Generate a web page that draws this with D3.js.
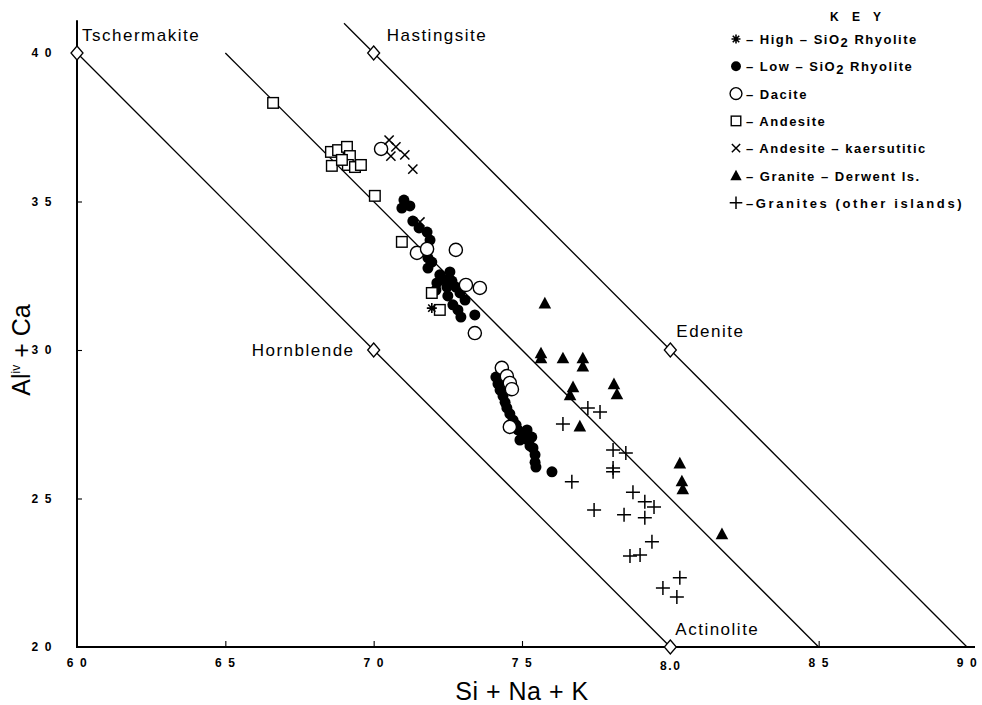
<!DOCTYPE html>
<html>
<head>
<meta charset="utf-8">
<script src="https://cdn.jsdelivr.net/npm/d3@7"></script>
<style>
  body { margin: 0; background: #fff; }
  svg { display: block; }
  text { font-family: "Liberation Sans", Arial, sans-serif; fill: #000; }
</style>
</head>
<body>
<svg id="chart" width="982" height="705"></svg>
<script>
// ---- axis ticks ----
const xTicks = [6.0, 6.5, 7.0, 7.5, 8.0, 8.5, 9.0];
const xTickLabels = ["6 0", "6 5", "7 0", "7 5", "8.0", "8 5", "9 0"];
const yTicks = [2.0, 2.5, 3.0, 3.5, 4.0];
const yTickLabels = ["2 0", "2 5", "3 0", "3 5", "4 0"];

// ---- end-member compositions ----
const endMembers = ["Tschermakite", "Hastingsite", "Hornblende", "Edenite", "Actinolite"];
const endMemberX = [6.0, 7.0, 7.0, 8.0, 8.0];
const endMemberY = [4.0, 4.0, 3.0, 3.0, 2.0];

// ---- boundary lines (x, y pairs) ----
const lineLowX = [6.0, 8.0],  lineLowY = [4.0, 2.0];
const lineMidX = [6.5, 8.5],  lineMidY = [4.0, 2.0];
const lineHighX = [6.9, 9.0], lineHighY = [4.1, 2.0];

// ---- amphibole analyses ----
const highSiO2X = [7.196];
const highSiO2Y = [3.141];

const lowSiO2X = [7.102, 7.122, 7.095, 7.132, 7.153, 7.180, 7.190, 7.183, 7.196, 7.183,
  7.223, 7.240, 7.213, 7.247, 7.210, 7.264, 7.277, 7.250, 7.291, 7.267, 7.284, 7.294,
  7.341, 7.257, 7.308,
  7.412, 7.419, 7.426, 7.436, 7.443, 7.449, 7.459, 7.470, 7.480, 7.486, 7.500, 7.510,
  7.520, 7.527, 7.537, 7.544, 7.544, 7.547, 7.493, 7.517, 7.533, 7.601];
const lowSiO2Y = [3.505, 3.485, 3.478, 3.434, 3.411, 3.397, 3.370, 3.310, 3.296, 3.276,
  3.253, 3.236, 3.226, 3.212, 3.202, 3.232, 3.212, 3.182, 3.192, 3.152, 3.135, 3.111,
  3.118, 3.263, 3.168,
  2.909, 2.886, 2.865, 2.845, 2.824, 2.805, 2.785, 2.764, 2.748, 2.731, 2.720, 2.707,
  2.697, 2.677, 2.670, 2.647, 2.622, 2.606, 2.697, 2.731, 2.707, 2.590];

const daciteX = [7.025, 7.146, 7.180, 7.277, 7.311, 7.358, 7.341, 7.432, 7.449, 7.459, 7.466, 7.459];
const daciteY = [3.677, 3.327, 3.340, 3.337, 3.219, 3.209, 3.057, 2.940, 2.912, 2.889, 2.868, 2.741];

const andesiteX = [6.661, 6.856, 6.859, 6.880, 6.910, 6.920, 6.913, 6.937, 6.957, 6.893, 7.004, 7.095, 7.196, 7.223];
const andesiteY = [3.832, 3.667, 3.620, 3.673, 3.684, 3.653, 3.623, 3.616, 3.623, 3.640, 3.519, 3.364, 3.192, 3.135];

const kaersutiticX = [7.052, 7.075, 7.058, 7.105, 7.132, 7.156];
const kaersutiticY = [3.707, 3.684, 3.653, 3.657, 3.609, 3.431];

const derwentX = [7.577, 7.564, 7.564, 7.638, 7.705, 7.705, 7.672, 7.662, 7.810, 7.820, 7.695, 8.032, 8.039, 8.042, 8.174];
const derwentY = [3.158, 2.990, 2.973, 2.973, 2.973, 2.946, 2.876, 2.849, 2.886, 2.852, 2.744, 2.619, 2.559, 2.532, 2.381];

const otherGraniteX = [7.722, 7.763, 7.638, 7.807, 7.850, 7.807, 7.807, 7.668, 7.874, 7.914,
  7.945, 7.743, 7.844, 7.914, 7.938, 7.864, 7.898, 7.975, 8.032, 8.022];
const otherGraniteY = [2.805, 2.791, 2.751, 2.663, 2.653, 2.603, 2.590, 2.556, 2.521, 2.489,
  2.471, 2.461, 2.445, 2.435, 2.354, 2.306, 2.310, 2.199, 2.233, 2.168];

// ---- key ----
const keySymbols = ["asterisk", "dot", "circle", "square", "xmark", "triangle", "plus"];
const keyLabels = ["– High – SiO|2| Rhyolite", "– Low – SiO|2| Rhyolite", "– Dacite", "– Andesite",
  "– Andesite – kaersutitic", "– Granite – Derwent Is.", "–Granites (other islands)"];

// ---------------------------------------------------------------
const svg = d3.select("#chart");
const x = d3.scaleLinear().domain([6, 9]).range([77, 967]);
const y = d3.scaleLinear().domain([2, 4]).range([647, 53]);

// symbol painters
function drawSymbol(g, type, cx, cy, s) {
  s = s || 1;
  if (type === "dot") {
    g.append("circle").attr("cx", cx).attr("cy", cy).attr("r", 5.5 * s).attr("fill", "#000");
  } else if (type === "circle") {
    g.append("circle").attr("cx", cx).attr("cy", cy).attr("r", 6.6 * s)
      .attr("fill", "#fff").attr("stroke", "#000").attr("stroke-width", 1.4);
  } else if (type === "square") {
    const h = 5.3 * s;
    g.append("rect").attr("x", cx - h).attr("y", cy - h).attr("width", 2 * h).attr("height", 2 * h)
      .attr("fill", "#fff").attr("stroke", "#000").attr("stroke-width", 1.4);
  } else if (type === "xmark") {
    const h = 4.6 * s;
    g.append("path").attr("d", `M${cx - h},${cy - h}L${cx + h},${cy + h}M${cx - h},${cy + h}L${cx + h},${cy - h}`)
      .attr("stroke", "#000").attr("stroke-width", 1.5).attr("fill", "none");
  } else if (type === "plus") {
    const h = 7 * s;
    g.append("path").attr("d", `M${cx - h},${cy}L${cx + h},${cy}M${cx},${cy - h}L${cx},${cy + h}`)
      .attr("stroke", "#000").attr("stroke-width", 1.5).attr("fill", "none");
  } else if (type === "triangle") {
    const h = 6.3 * s;
    g.append("path").attr("d", `M${cx},${cy - h}L${cx + h},${cy + h * 0.85}L${cx - h},${cy + h * 0.85}Z`)
      .attr("fill", "#000");
  } else if (type === "asterisk") {
    const h = 5 * s, d = h * 0.72;
    g.append("path").attr("d",
      `M${cx - h},${cy}L${cx + h},${cy}M${cx},${cy - h}L${cx},${cy + h}` +
      `M${cx - d},${cy - d}L${cx + d},${cy + d}M${cx - d},${cy + d}L${cx + d},${cy - d}`)
      .attr("stroke", "#000").attr("stroke-width", 1.6).attr("fill", "none");
  }
}

// boundary lines
const lineGen = d3.line().x(d => x(d[0])).y(d => y(d[1]));
[[lineLowX, lineLowY], [lineMidX, lineMidY], [lineHighX, lineHighY]].forEach(([xs, ys]) => {
  svg.append("path").attr("d", lineGen(d3.zip(xs, ys)))
    .attr("fill", "none").attr("stroke", "#000").attr("stroke-width", 1.3);
});

// axes
const xAxis = d3.axisBottom(x).tickValues(xTicks)
  .tickFormat((d, i) => xTickLabels[i]).tickSize(-6).tickPadding(11).tickSizeOuter(0);
const gx = svg.append("g").attr("transform", `translate(0,${y(2)})`).call(xAxis);
gx.select(".domain").remove();
gx.selectAll(".tick line").attr("stroke", "#000").attr("stroke-width", 1.1)
  .filter(d => d === 6 || d === 8 || d === 9).remove();
gx.selectAll(".tick text").attr("font-size", 12).attr("font-weight", "bold")
  .attr("letter-spacing", 1.6).attr("font-family", "Liberation Sans, Arial, sans-serif")
  .attr("dy", d => d === 8 ? "1.0em" : "0.71em");

const yAxis = d3.axisLeft(y).tickValues(yTicks)
  .tickFormat((d, i) => yTickLabels[i]).tickSize(-5).tickPadding(24).tickSizeOuter(0);
const gy = svg.append("g").attr("transform", `translate(${x(6)},0)`).call(yAxis);
gy.select(".domain").remove();
gy.selectAll(".tick line").attr("stroke", "#000").attr("stroke-width", 1.1)
  .filter(d => d === 2 || d === 4).remove();
gy.selectAll(".tick text").attr("font-size", 12).attr("font-weight", "bold")
  .attr("letter-spacing", 1.6).attr("font-family", "Liberation Sans, Arial, sans-serif");

// axis frame lines
svg.append("line").attr("x1", x(6)).attr("x2", x(6)).attr("y1", y(4.11)).attr("y2", y(2) + 1)
  .attr("stroke", "#000").attr("stroke-width", 2);
svg.append("line").attr("x1", x(6) - 1).attr("x2", x(9) + 8).attr("y1", y(2)).attr("y2", y(2))
  .attr("stroke", "#000").attr("stroke-width", 2);

// analyses
const pts = svg.append("g");
function series(xs, ys, type) {
  xs.forEach((v, i) => drawSymbol(pts, type, x(v), y(ys[i])));
}
series(lowSiO2X, lowSiO2Y, "dot");
series(andesiteX, andesiteY, "square");
series(daciteX, daciteY, "circle");
series(kaersutiticX, kaersutiticY, "xmark");
series(highSiO2X, highSiO2Y, "asterisk");
series(derwentX, derwentY, "triangle");
series(otherGraniteX, otherGraniteY, "plus");

// end-member diamonds and names
const labelPos = {
  Tschermakite: [5, -12], Hastingsite: [13, -12], Hornblende: [-122, 6],
  Edenite: [6, -13], Actinolite: [5, -12]
};
endMembers.forEach((name, i) => {
  const cx = x(endMemberX[i]), cy = y(endMemberY[i]);
  svg.append("path").attr("d", `M${cx},${cy - 7}L${cx + 6},${cy}L${cx},${cy + 7}L${cx - 6},${cy}Z`)
    .attr("fill", "#fff").attr("stroke", "#000").attr("stroke-width", 1.3);
  const o = labelPos[name];
  svg.append("text").attr("x", cx + o[0]).attr("y", cy + o[1])
    .attr("font-size", 17).attr("letter-spacing", 1.5).text(name);
});

// axis titles
svg.append("text").attr("x", 522).attr("y", 700).attr("text-anchor", "middle")
  .attr("font-size", 25).attr("letter-spacing", 0.5).text("Si + Na + K");
const yt = svg.append("text").attr("transform", "translate(30,350) rotate(-90)")
  .attr("text-anchor", "middle").attr("font-size", 25);
yt.append("tspan").text("Al");
yt.append("tspan").attr("font-size", 12).attr("dy", -10).text("iv");
yt.append("tspan").attr("dy", 10).text(" + Ca");

// key
const key = svg.append("g").attr("transform", "translate(736,0)");
key.append("text").attr("x", 122).attr("y", 21).attr("text-anchor", "middle")
  .attr("font-size", 12).attr("font-weight", "bold").attr("letter-spacing", 5).text("K E Y");
keySymbols.forEach((sym, i) => {
  const ry = 39 + i * 27.3;
  drawSymbol(key, sym, 0, ry, 0.9);
  const t = key.append("text").attr("x", 10).attr("y", ry + 5)
    .attr("font-size", 13).attr("font-weight", "bold").attr("letter-spacing", i === 6 ? 2.6 : 1.5);
  keyLabels[i].split("|").forEach((part, j) => {
    if (j === 1) t.append("tspan").attr("dy", 3).text(part);
    else if (j === 2) t.append("tspan").attr("dy", -3).text(part);
    else t.append("tspan").text(part);
  });
});
</script>
</body>
</html>
